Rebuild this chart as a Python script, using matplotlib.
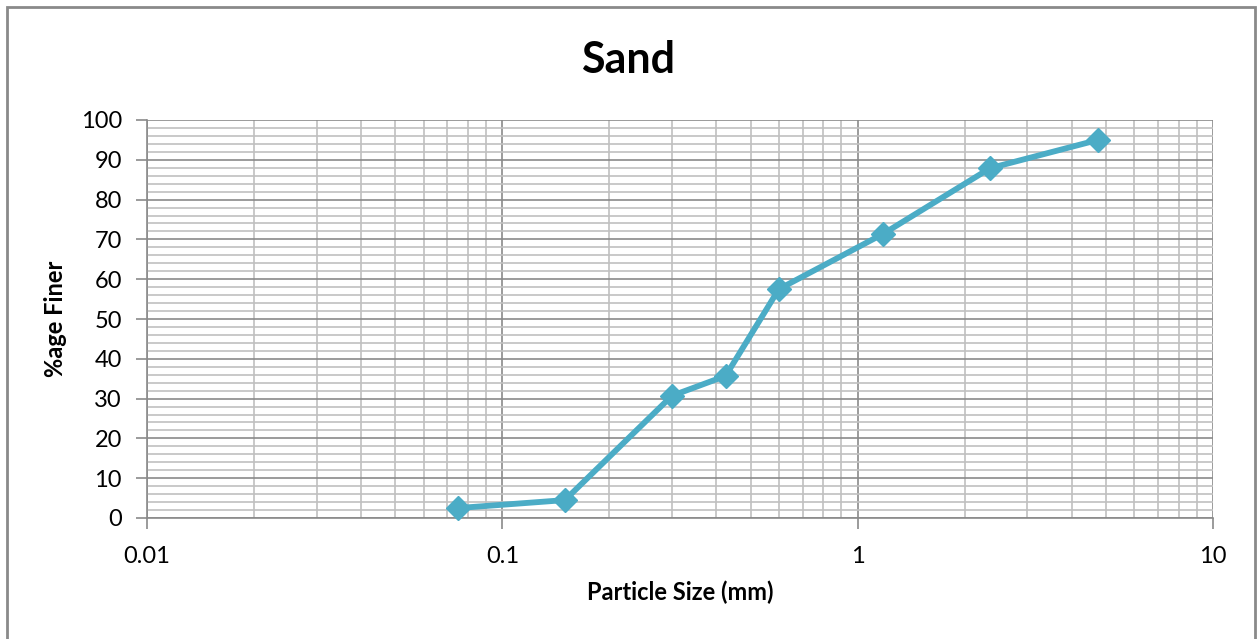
import matplotlib
matplotlib.use("Agg")
import matplotlib.pyplot as plt
from matplotlib.patches import Rectangle
from matplotlib.ticker import LogLocator, MultipleLocator, FixedLocator, FixedFormatter

# sieve analysis values
particle_size = [0.075, 0.15, 0.3, 0.425, 0.6, 1.18, 2.36, 4.75]
pct_finer = [2.5, 4.5, 30.7, 35.7, 57.5, 71.4, 87.9, 95.0]
x_ticks = [0.01, 0.1, 1, 10]
x_tick_labels = ["0.01", "0.1", "1", "10"]

plt.rcParams["font.family"] = ["Lato", "DejaVu Sans"]

fig = plt.figure(figsize=(12.57, 6.39), dpi=100)
ax = fig.add_axes([147 / 1257, 1 - 518 / 639, (1213 - 147) / 1257, (518 - 120) / 639])

ax.plot(particle_size, pct_finer, color="#4bacc6", lw=4.2, marker="D", ms=12,
        mec="#4bacc6", mfc="#4bacc6", zorder=5, clip_on=False)

ax.set_xscale("log")
ax.set_xlim(0.01, 10)
ax.set_ylim(0, 100)
ax.xaxis.set_major_locator(FixedLocator(x_ticks))
ax.xaxis.set_major_formatter(FixedFormatter(x_tick_labels))
ax.xaxis.set_minor_locator(LogLocator(base=10, subs=range(2, 10)))
ax.yaxis.set_major_locator(MultipleLocator(10))
ax.yaxis.set_minor_locator(MultipleLocator(2))

ax.grid(which="major", color="#8a8a8a", lw=1.2)
ax.grid(which="minor", color="#c0c0c0", lw=1.2)
ax.set_axisbelow(True)

for side in ("top", "right"):
    ax.spines[side].set_visible(False)
ax.spines["left"].set_color("#8a8a8a")
ax.spines["bottom"].set_color("#8a8a8a")
ax.spines["left"].set_linewidth(1.2)
ax.spines["bottom"].set_linewidth(1.2)

ax.tick_params(which="major", direction="out", length=8, width=1.2, color="#8a8a8a",
               labelsize=17, pad=10)
ax.tick_params(axis="x", which="major", pad=12)
ax.tick_params(which="minor", length=0)

# title is centred on the whole chart area, not the plot area
fig.text(0.5, 1 - 60 / 639, "Sand", fontsize=31, fontweight="bold", ha="center", va="center")
ax.set_xlabel("Particle Size (mm)", fontsize=17, fontweight="bold", labelpad=10)
ax.set_ylabel("%age Finer", fontsize=17, fontweight="bold", labelpad=10)

# outer chart frame
fig.patches.append(Rectangle((7 / 1257, -0.05), (1255 - 7) / 1257, 1.05 - 7 / 639,
                             transform=fig.transFigure, fill=False,
                             edgecolor="#8a8a8a", lw=2))

fig.savefig("out.png", dpi=100)
